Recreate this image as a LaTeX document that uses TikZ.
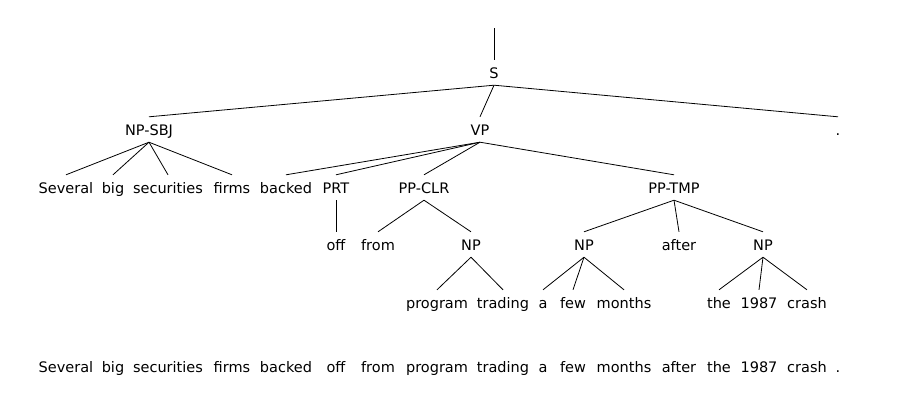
\documentclass[tikz,border=0pt]{standalone}
\usepackage{fontspec}
\setmainfont{DejaVu Sans}
\begin{document}
\begin{tikzpicture}[x=1pt,y=-1pt,
  lbl/.style={font=\fontsize{14.5}{17}\selectfont, inner xsep=0pt, inner ysep=7pt, text height=11pt, text depth=0pt, anchor=base},
  br/.style={line width=0.8pt}]
\useasboundingbox[fill=white] (0,0) rectangle (897,408);
% row 1
\node[lbl] (S) at (494,78) {S};
\coordinate (top) at (494,28);
% row 2
\node[lbl] (npsbj) at (149,135) {NP-SBJ};
\node[lbl] (vp) at (480,135) {VP};
\node[lbl] (dot) at (838,135) {.};
% row 3
\node[lbl] (several) at (66,193) {Several};
\node[lbl] (big) at (113,193) {big};
\node[lbl] (securities) at (168,193) {securities};
\node[lbl] (firms) at (232,193) {firms};
\node[lbl] (backed) at (286,193) {backed};
\node[lbl] (prt) at (336,193) {PRT};
\node[lbl] (ppclr) at (424,193) {PP-CLR};
\node[lbl] (pptmp) at (674,193) {PP-TMP};
% row 4
\node[lbl] (off) at (336,250) {off};
\node[lbl] (from) at (378,250) {from};
\node[lbl] (npa) at (471,250) {NP};
\node[lbl] (npb) at (584,250) {NP};
\node[lbl] (after) at (679,250) {after};
\node[lbl] (npc) at (763,250) {NP};
% row 5
\node[lbl] (program) at (437,308) {program};
\node[lbl] (trading) at (503,308) {trading};
\node[lbl] (a) at (543,308) {a};
\node[lbl] (few) at (573,308) {few};
\node[lbl] (months) at (624,308) {months};
\node[lbl] (the) at (719,308) {the};
\node[lbl] (y1987) at (759,308) {1987};
\node[lbl] (crash) at (807,308) {crash};
% sentence
\node[lbl] (s1) at (66,372) {Several};
\node[lbl] (s2) at (113,372) {big};
\node[lbl] (s3) at (168,372) {securities};
\node[lbl] (s4) at (232,372) {firms};
\node[lbl] (s5) at (286,372) {backed};
\node[lbl] (s6) at (336,372) {off};
\node[lbl] (s7) at (378,372) {from};
\node[lbl] (s8) at (437,372) {program};
\node[lbl] (s9) at (503,372) {trading};
\node[lbl] (s10) at (543,372) {a};
\node[lbl] (s11) at (573,372) {few};
\node[lbl] (s12) at (624,372) {months};
\node[lbl] (s13) at (679,372) {after};
\node[lbl] (s14) at (719,372) {the};
\node[lbl] (s15) at (759,372) {1987};
\node[lbl] (s16) at (807,372) {crash};
\node[lbl] (s17) at (838,372) {.};
% branches
\draw[br] (top) -- (S.north);
\foreach \c in {npsbj,vp,dot} \draw[br] (S.south) -- (\c.north);
\foreach \c in {several,big,securities,firms} \draw[br] (npsbj.south) -- (\c.north);
\foreach \c in {backed,prt,ppclr,pptmp} \draw[br] (vp.south) -- (\c.north);
\draw[br] (prt.south) -- (off.north);
\foreach \c in {from,npa} \draw[br] (ppclr.south) -- (\c.north);
\foreach \c in {npb,after,npc} \draw[br] (pptmp.south) -- (\c.north);
\foreach \c in {program,trading} \draw[br] (npa.south) -- (\c.north);
\foreach \c in {a,few,months} \draw[br] (npb.south) -- (\c.north);
\foreach \c in {the,y1987,crash} \draw[br] (npc.south) -- (\c.north);
\end{tikzpicture}
\end{document}
